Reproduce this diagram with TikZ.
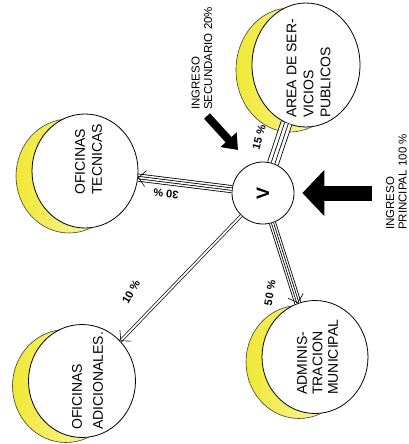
\documentclass[tikz,border=0pt]{standalone}
\usepackage{fontspec}
\setmainfont{Liberation Sans}
\usetikzlibrary{arrows.meta,shapes.geometric,decorations.markings,backgrounds}
\definecolor{moonyellow}{RGB}{240,232,50}

\begin{document}
\begin{tikzpicture}[
  x=1pt,y=-1pt,
  font=\fontsize{14}{17}\selectfont,
  office/.style={draw,ellipse,fill=white,line width=0.8pt,inner sep=0pt},
  txt/.style={rotate=90,align=left,anchor=west,inner sep=0pt},
  note/.style={txt,font=\fontsize{11.5}{12.5}\selectfont},
  pct/.style={inner sep=0pt,font=\bfseries\fontsize{11}{11}\selectfont},
  moon/.style={draw=black!75,line width=0.6pt,left color=moonyellow,
    right color=moonyellow!25!white},
  bigarr/.style={line width=15pt,-{Triangle[length=22pt,width=45pt]}},
  smallarr/.style={line width=8pt,-{Triangle[length=14pt,width=21pt]}},
  barbend/.style={decoration={markings,mark=at position 0.999 with
    {\arrow{Straight Barb[length=7pt,width=16pt,line width=0.6pt]}}},
    postaction=decorate},
]
\useasboundingbox (0,0) rectangle (409,444);
% offices
\node[office,minimum width=106pt,minimum height=114pt] (tec) at (85,171) {};
\node[office,minimum width=108pt,minimum height=124pt] (area) at (306,65) {};
\node[office,minimum width=107pt,minimum height=113pt] (adic) at (82,381) {};
\node[office,minimum width=106pt,minimum height=113pt] (adm) at (315,357) {};
\node[circle,draw,fill=white,line width=0.8pt,minimum size=62pt,rotate=90,
  font=\bfseries\fontsize{18}{18}\selectfont] (v) at (263,193) {V};
\begin{scope}[on background layer]
\foreach \n/\rx/\ry in {tec/53/57,area/54/62,adic/53.5/56.5,adm/53/56.5}
  \draw[moon] ([shift={(-16,5)}]\n.center) ellipse [x radius=\rx,y radius=\ry];
\end{scope}
\node[txt] (tectext) at (88.5,195) {OFICINAS\\TECNICAS};
\node[txt] (areatext) at (308.5,118) {AREA DE SER-\\VICIOS\\PUBLICOS};
\node[txt] (adictext) at (87.5,430) {OFICINAS\\[4pt]ADICIONALES.};
\node[txt,font=\fontsize{14}{15.5}\selectfont] (admtext) at (317.5,395)
  {ADMINIS-\\TRACION\\MUNICIPAL};
% flows out of V
\foreach \n/\g in {tec/1.6,area/2.9,adm/1.3}{
  \draw[line width=3*\g*1pt+3.2pt] (v) -- (\n);
  \draw[white,line width=3*\g*1pt+1.6pt] (v) -- (\n);
  \draw[line width=\g*1pt+1.6pt] (v) -- (\n);
  \draw[white,line width=\g*1pt] (v) -- (\n);
}
\draw[double,double distance=1.8pt,line width=0.7pt] (v) -- (adic);
\path[barbend] (v) -- (tec);
\path[barbend] (v) -- (adm);
\path[barbend] (v) -- (adic);
\node[pct,rotate=175] (p30) at (166,194) {30 \%};
\node[pct,rotate=75] (p15) at (259,137) {15 \%};
\node[pct,rotate=80] (p50) at (270,293) {50 \%};
\node[pct,rotate=60] (p10) at (131,292) {10 \%};
% incomes
\coordinate (mainin) at (372,193);
\draw[bigarr,shorten >=8pt] (mainin) -- (v);
\node[note] (mainnote) at (396.5,230) {INGRESO\\PRINCIPAL 100 \%};
\coordinate (secin) at (207,116);
\coordinate (secto) at (238,150);
\draw[smallarr] (secin) -- (secto);
\node[note] (secnote) at (202,110) {INGRESO\\SECUNDARIO 20\%};
\end{tikzpicture}
\end{document}
